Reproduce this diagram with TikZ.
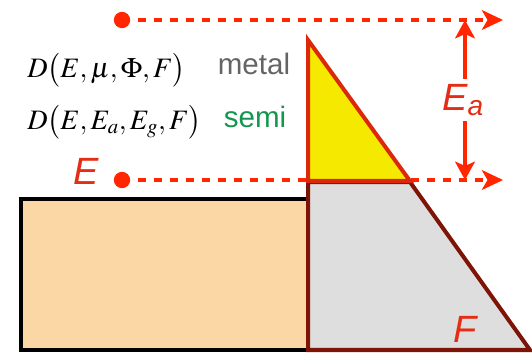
\documentclass[tikz,border=0pt]{standalone}
\usepackage{amsmath}
\usepackage{mathptmx}
\usepackage{fontspec}
\setsansfont{Liberation Sans}
\usetikzlibrary{arrows.meta}
\definecolor{dotred}{RGB}{255,38,0}
\definecolor{labred}{RGB}{228,45,20}
\definecolor{trired}{RGB}{220,40,10}
\definecolor{triyellow}{RGB}{245,233,0}
\definecolor{fieldred}{RGB}{125,20,5}
\definecolor{fieldgray}{RGB}{222,222,222}
\definecolor{metalfill}{RGB}{252,215,166}
\definecolor{semigreen}{RGB}{20,150,80}
\definecolor{metalgray}{RGB}{100,100,100}

\begin{document}
\begin{tikzpicture}[x=0.025cm, y=-0.025cm,
    arr/.style={-{Stealth[length=15pt, width=14pt, inset=4pt]}, line width=2.8pt, dotred},
    level/.style={arr, dash pattern=on 5.7pt off 5.7pt},
    lab/.style={font=\fontsize{27}{30}\selectfont\sffamily\itshape, text=labred},
    eq/.style={font=\fontsize{20}{24}\selectfont, anchor=west, inner sep=0pt},
    kind/.style={font=\fontsize{21}{24}\selectfont\sffamily, anchor=base},
  ]
  \useasboundingbox (0,0) rectangle (532,354);

  % Metal block
  \draw[line width=2.85pt, fill=metalfill] (21,199) rectangle (308,350);

  % Barrier under the field
  \draw[line width=2.85pt, draw=fieldred, fill=fieldgray, line join=miter]
    (308,182) -- (410,182) -- (530,350) -- (308,350) -- cycle;

  % Levels
  \coordinate (vac) at (122,20);
  \coordinate (vacEnd) at (503,20);
  \coordinate (fermi) at (122,180);
  \coordinate (fermiEnd) at (503,180);
  \draw[level] (vac) -- (vacEnd);
  \draw[level] (fermi) -- (fermiEnd);
  \fill[dotred] (vac) circle (5.8pt);
  \fill[dotred] (fermi) circle (5.8pt);

  % Tunnelling triangle
  \draw[line width=2.85pt, draw=trired, fill=triyellow, line join=miter]
    (308,40) -- (410,181) -- (308,181) -- cycle;

  % Activation energy
  \node[lab] (ea) at (463,100) {E\textsubscript{a}};
  \coordinate (eaTop) at (465,20);
  \coordinate (eaBot) at (465,180);
  \draw[arr, -{Stealth[length=13pt, width=14pt, inset=3pt]}] (ea.north -| eaTop) -- (eaTop);
  \draw[arr, -{Stealth[length=13pt, width=14pt, inset=3pt]}] (ea.south -| eaBot) -- (eaBot);

  % Labels
  \node[lab, anchor=base] (elab) at (86,185) {E};
  \node[lab, anchor=base] (flab) at (465,342) {F};

  % Supply functions
  \node[eq] (dmetal) at (27,70) {$D\bigl(E,\mu,\Phi,F\bigr)$};
  \node[eq] (dsemi) at (27,122) {$D\bigl(E,E_a,E_g,F\bigr)$};
  \node[kind, text=metalgray] (metal) at (254,75) {metal};
  \node[kind, text=semigreen] (semi) at (255,128) {semi};

\end{tikzpicture}
\end{document}
